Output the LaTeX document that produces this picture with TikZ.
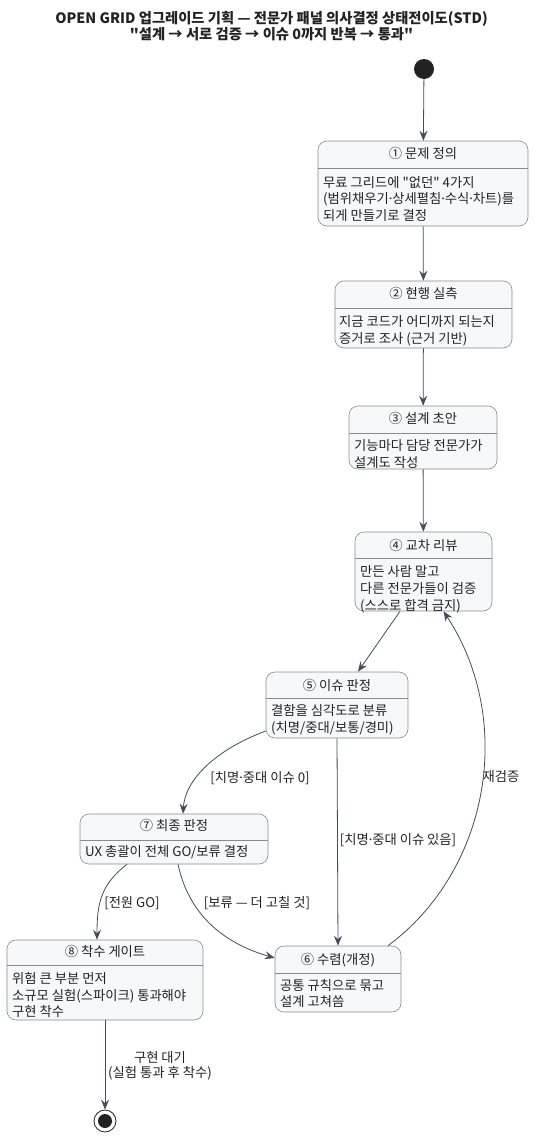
\documentclass[tikz,border=0pt]{standalone}
\usepackage{fontspec}
\setmainfont{Noto Sans CJK KR}[Ligatures=TeXOff]
\newfontfamily\latinfont{Noto Sans}
\newcommand\mdot{{\latinfont ·}}
\usetikzlibrary{arrows,arrows.meta}
\definecolor{boxfill}{HTML}{F7F8FA}
\definecolor{boxline}{HTML}{858A94}
\definecolor{arrowc}{HTML}{454C5C}
\definecolor{txt}{HTML}{222222}

\begin{document}
\begin{tikzpicture}
  [x=1pt,y=-1pt,every node/.style={inner sep=0pt,text=txt}]

  \tikzstyle{state} = [draw=boxline, fill=boxfill, rounded corners=9pt, line width=0.6pt]
  \tikzstyle{stitle} = [font=\fontsize{13.3}{15}\selectfont]
  \tikzstyle{body} = [anchor=west, align=left, font=\fontsize{13.3}{16.8}\selectfont]
  \tikzstyle{guard} = [font=\fontsize{13.3}{15}\selectfont]
  \tikzstyle{flow} = [-{Stealth[length=10pt,width=8pt,inset=3.5pt]}, draw=arrowc, line width=0.8pt]

  \useasboundingbox (0,0) rectangle (543,1146);

  \node[align=center, font=\bfseries\fontsize{14.3}{16.5}\selectfont] (head) at (271.5,26)
    {OPEN GRID 업그레이드 기획 — 전문가 패널 의사결정 상태전이도(STD)\\"설계 → 서로 검증 → 이슈 0까지 반복 → 통과"};

  % start / end
  \node[circle, fill=txt, minimum size=20pt] (init) at (424,69) {};
  \node[circle, draw=txt, line width=0.8pt, fill=white, minimum size=22pt] (fin) at (105,1121) {};
  \node[circle, fill=txt, minimum size=14pt] (fin-dot) at (fin) {};

  % states
  \node[state, minimum width=210pt, minimum height=85pt] (1) at (423,183.5) {};
  \node[stitle] (1t) at (423,153) {① 문제 정의};
  \draw[boxline, line width=0.6pt] (1.west |- 0,168) -- (1.east |- 0,168);
  \node[body] (1b) at (323,199) {무료 그리드에 "없던" 4가지\\(범위채우기\mdot 상세펼침\mdot 수식\mdot 차트)를\\되게 만들기로 결정};

  \node[state, minimum width=177pt, minimum height=67pt] (2) at (423.5,314.5) {};
  \node[stitle] (2t) at (423.5,293) {② 현행 실측};
  \draw[boxline, line width=0.6pt] (2.west |- 0,308) -- (2.east |- 0,308);
  \node[body] (2b) at (339,330.5) {지금 코드가 어디까지 되는지\\증거로 조사 (근거 기반)};

  \node[state, minimum width=148pt, minimum height=63pt] (3) at (423,437.5) {};
  \node[stitle] (3t) at (423,418) {③ 설계 초안};
  \draw[boxline, line width=0.6pt] (3.west |- 0,433) -- (3.east |- 0,433);
  \node[body] (3b) at (354,454) {기능마다 담당 전문가가\\설계도 작성};

  \node[state, minimum width=137pt, minimum height=79pt] (4) at (423.5,571.5) {};
  \node[stitle] (4t) at (423.5,545) {④ 교차 리뷰};
  \draw[boxline, line width=0.6pt] (4.west |- 0,558) -- (4.east |- 0,558);
  \node[body] (4b) at (360,589) {만든 사람 말고\\다른 전문가들이 검증\\(스스로 합격 금지)};

  \node[state, minimum width=142pt, minimum height=66pt] (5) at (337,705) {};
  \node[stitle] (5t) at (337,685) {⑤ 이슈 판정};
  \draw[boxline, line width=0.6pt] (5.west |- 0,698) -- (5.east |- 0,698);
  \node[body] (5b) at (271,720) {결함을 심각도로 분류\\(치명/중대/보통/경미)};

  \node[state, minimum width=188pt, minimum height=50pt] (7) at (174,839) {};
  \node[stitle] (7t) at (174,825) {⑦ 최종 판정};
  \draw[boxline, line width=0.6pt] (7.west |- 0,840) -- (7.east |- 0,840);
  \node[body] (7b) at (85,852) {UX 총괄이 전체 GO/보류 결정};

  \node[state, minimum width=196pt, minimum height=80pt] (8) at (105,980) {};
  \node[stitle] (8t) at (105,951) {⑧ 착수 게이트};
  \draw[boxline, line width=0.6pt] (8.west |- 0,965) -- (8.east |- 0,965);
  \node[body] (8b) at (12,995) {위험 큰 부분 먼저\\소규모 실험(스파이크) 통과해야\\구현 착수};

  \node[state, minimum width=126pt, minimum height=66pt] (6) at (338,979) {};
  \node[stitle] (6t) at (338,960) {⑥ 수렴(개정)};
  \draw[boxline, line width=0.6pt] (6.west |- 0,973) -- (6.east |- 0,973);
  \node[body] (6b) at (280,993.5) {공통 규칙으로 묶고\\설계 고쳐씀};

  % transitions
  \path[every edge/.append style={flow}]
        (init) edge (1)
        (1) edge (2)
        (2) edge (3)
        (3) edge (4)
        ([xshift=-23.5pt]4.south) edge ([xshift=21pt]5.north)
        (5.south) edge (6.north)
        (8.south) edge (fin);

  \draw[flow] (5.west |- 0,731) .. controls (215,750) and (185,780) .. ([xshift=9pt]7.north);
  \draw[flow] ([xshift=50pt]6.north) .. controls (490,870) and (515,720) .. ([xshift=20pt]4.south);
  \draw[flow] ([xshift=-47pt]7.south) .. controls (100,885) and (97,905) .. ([xshift=-8pt]8.north);
  \draw[flow] ([xshift=4pt]7.south) .. controls (190,920) and (230,945) .. (6.west |- 0,958);

  % guards
  \node[guard] (g1) at (260,778) {[치명\mdot 중대 이슈 0]};
  \node[guard] (g2) at (398,840) {[치명\mdot 중대 이슈 있음]};
  \node[guard] (g3) at (501,777) {재검증};
  \node[guard] (g4) at (132,903) {[전원 GO]};
  \node[guard] (g5) at (257,903) {[보류 — 더 고칠 것]};
  \node[guard, align=center] (g6) at (160,1066) {구현 대기\\(실험 통과 후 착수)};
\end{tikzpicture}
\end{document}
